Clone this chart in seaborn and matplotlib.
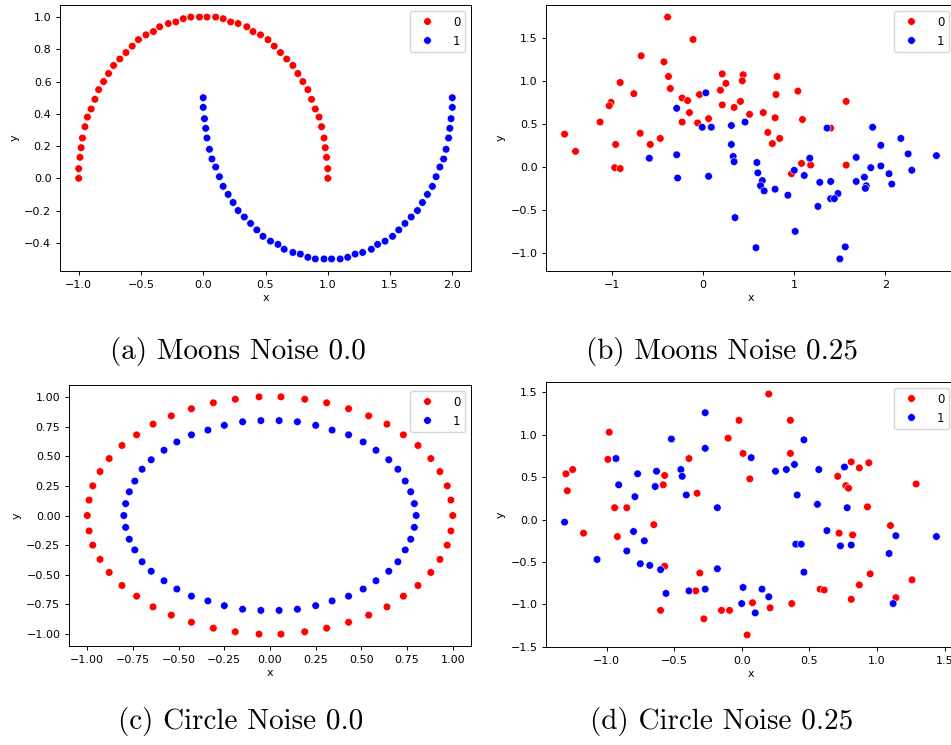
import numpy as np
import pandas as pd
import matplotlib
matplotlib.use('Agg')
import matplotlib.pyplot as plt
from matplotlib.ticker import MultipleLocator
import seaborn as sns

# (a) Moons, noise 0.0
moons0_x0 = [1.00, 1.00, 0.99, 0.98, 0.97, 0.95, 0.93, 0.90, 0.87, 0.84, 0.80, 0.76, 0.72, 0.67, 0.62, 0.57, 0.52,
             0.46, 0.40, 0.35, 0.28, 0.22, 0.16, 0.10, 0.03, -0.03, -0.10, -0.16, -0.22, -0.28, -0.35, -0.40, -0.46,
             -0.52, -0.57, -0.62, -0.67, -0.72, -0.76, -0.80, -0.84, -0.87, -0.90, -0.93, -0.95, -0.97, -0.98, -0.99,
             -1.00, -1.00]
moons0_y0 = [0.00, 0.06, 0.13, 0.19, 0.25, 0.32, 0.38, 0.43, 0.49, 0.55, 0.60, 0.65, 0.70, 0.74, 0.78, 0.82, 0.86,
             0.89, 0.91, 0.94, 0.96, 0.97, 0.99, 1.00, 1.00, 1.00, 1.00, 0.99, 0.97, 0.96, 0.94, 0.91, 0.89, 0.86,
             0.82, 0.78, 0.74, 0.70, 0.65, 0.60, 0.55, 0.49, 0.43, 0.38, 0.32, 0.25, 0.19, 0.13, 0.06, 0.00]
moons0_x1 = [0.00, 0.00, 0.01, 0.02, 0.03, 0.05, 0.07, 0.10, 0.13, 0.16, 0.20, 0.24, 0.28, 0.33, 0.38, 0.43, 0.48,
             0.54, 0.60, 0.65, 0.72, 0.78, 0.84, 0.90, 0.97, 1.03, 1.10, 1.16, 1.22, 1.28, 1.35, 1.40, 1.46, 1.52,
             1.57, 1.62, 1.67, 1.72, 1.76, 1.80, 1.84, 1.87, 1.90, 1.93, 1.95, 1.97, 1.98, 1.99, 2.00, 2.00]
moons0_y1 = [0.50, 0.44, 0.37, 0.31, 0.25, 0.18, 0.12, 0.07, 0.01, -0.05, -0.10, -0.15, -0.20, -0.24, -0.28, -0.32,
             -0.36, -0.39, -0.41, -0.44, -0.46, -0.47, -0.49, -0.50, -0.50, -0.50, -0.50, -0.49, -0.47, -0.46, -0.44,
             -0.41, -0.39, -0.36, -0.32, -0.28, -0.24, -0.20, -0.15, -0.10, -0.05, 0.01, 0.07, 0.12, 0.18, 0.25,
             0.31, 0.37, 0.44, 0.50]

# (b) Moons, noise 0.25
moons25_x0 = [-0.39, -0.11, -0.68, -0.43, -0.38, -0.91, -0.76, -0.36, -1.01, -1.03, -0.23, -0.17, -0.04, -0.15,
              -1.13, -0.23, -0.06, 0.06, 0.21, 0.25, 0.19, 0.44, 0.43, 0.41, 0.21, 0.34, 0.51, -1.52, -0.69, -0.47,
              -0.96, -0.58, -1.40, -0.97, -0.91, 0.81, 0.80, 1.04, 1.57, 0.66, 0.79, 1.09, 1.40, 0.71, 0.84, 0.76,
              1.08, 1.18, 1.57, 0.97]
moons25_y0 = [1.74, 1.48, 1.29, 1.22, 1.05, 0.98, 0.85, 0.91, 0.75, 0.71, 0.80, 0.77, 0.84, 0.63, 0.52, 0.52,
              0.51, 0.56, 1.08, 0.97, 0.89, 1.07, 1.00, 0.76, 0.72, 0.69, 0.61, 0.38, 0.39, 0.33, 0.26, 0.26, 0.18,
              -0.01, -0.02, 1.05, 0.84, 0.88, 0.76, 0.63, 0.57, 0.55, 0.45, 0.40, 0.33, 0.27, 0.04, 0.02, 0.02, -0.08]
moons25_x1 = [0.03, -0.29, -0.01, 0.09, 0.31, 0.46, 0.31, -0.59, -0.29, -0.28, 0.06, 0.33, 0.34, 0.35, 1.36, 1.86,
              2.17, 1.95, 2.25, 2.56, 0.59, 1.17, 1.68, 0.60, 1.00, 1.11, 0.65, 0.63, 0.67, 0.79, 0.93, 1.28, 1.40,
              1.48, 1.40, 1.44, 1.26, 1.68, 1.77, 1.84, 1.95, 2.04, 2.07, 2.29, 1.79, 1.78, 1.01, 0.58, 1.56, 1.50]
moons25_y1 = [0.86, 0.68, 0.46, 0.46, 0.48, 0.52, 0.26, 0.10, 0.14, -0.13, -0.11, 0.12, 0.06, -0.59, 0.45, 0.46,
              0.33, 0.25, 0.15, 0.13, 0.05, 0.10, 0.11, -0.07, -0.04, -0.10, -0.16, -0.22, -0.28, -0.26, -0.33, -0.18,
              -0.17, -0.31, -0.37, -0.37, -0.46, -0.17, -0.12, -0.01, 0.01, -0.08, -0.20, -0.04, -0.22, -0.25, -0.75,
              -0.94, -0.93, -1.07]

# (c) Circle, noise 0.0
circ0_x0 = [1.00, 0.99, 0.97, 0.93, 0.88, 0.81, 0.73, 0.64, 0.54, 0.43, 0.31, 0.19, 0.06,
            -0.06, -0.19, -0.31, -0.43, -0.54, -0.64, -0.73, -0.81, -0.88, -0.93, -0.97, -0.99, -1.00,
            -0.99, -0.97, -0.93, -0.88, -0.81, -0.73, -0.64, -0.54, -0.43, -0.31, -0.19, -0.06,
            0.06, 0.19, 0.31, 0.43, 0.54, 0.64, 0.73, 0.81, 0.88, 0.93, 0.97, 0.99]
circ0_y0 = [0.00, 0.13, 0.25, 0.37, 0.48, 0.59, 0.68, 0.77, 0.84, 0.90, 0.95, 0.98, 1.00,
            1.00, 0.98, 0.95, 0.90, 0.84, 0.77, 0.68, 0.59, 0.48, 0.37, 0.25, 0.13, 0.00,
            -0.13, -0.25, -0.37, -0.48, -0.59, -0.68, -0.77, -0.84, -0.90, -0.95, -0.98, -1.00,
            -1.00, -0.98, -0.95, -0.90, -0.84, -0.77, -0.68, -0.59, -0.48, -0.37, -0.25, -0.13]
circ0_x1 = [0.80, 0.79, 0.77, 0.74, 0.70, 0.65, 0.58, 0.51, 0.43, 0.34, 0.25, 0.15, 0.05,
            -0.05, -0.15, -0.25, -0.34, -0.43, -0.51, -0.58, -0.65, -0.70, -0.74, -0.77, -0.79, -0.80,
            -0.79, -0.77, -0.74, -0.70, -0.65, -0.58, -0.51, -0.43, -0.34, -0.25, -0.15, -0.05,
            0.05, 0.15, 0.25, 0.34, 0.43, 0.51, 0.58, 0.65, 0.70, 0.74, 0.77, 0.79]
circ0_y1 = [0.00, 0.10, 0.20, 0.29, 0.39, 0.47, 0.55, 0.62, 0.68, 0.72, 0.76, 0.79, 0.80,
            0.80, 0.79, 0.76, 0.72, 0.68, 0.62, 0.55, 0.47, 0.39, 0.29, 0.20, 0.10, 0.00,
            -0.10, -0.20, -0.29, -0.39, -0.47, -0.55, -0.62, -0.68, -0.72, -0.76, -0.79, -0.80,
            -0.80, -0.79, -0.76, -0.72, -0.68, -0.62, -0.55, -0.47, -0.39, -0.29, -0.20, -0.10]

# (d) Circle, noise 0.25
circ25_x0 = [-1.30, -1.25, -1.29, -0.98, -0.99, -0.94, -0.85, -0.57, -0.58, -0.39, -0.33, -0.10, 0.20, -0.02,
             0.36, 0.01, 0.36, 0.06, 0.81, 0.87, 0.94, 0.71, 0.77, 0.79, 1.29, 0.93, 0.72, 0.82, 1.10, 0.95, 0.87,
             1.26, 0.58, 0.61, 0.81, 1.14, 0.08, 0.21, 0.37, -0.09, 0.04, -1.17, -0.92, -0.65, -0.57, -0.60, -0.34,
             -0.31, -0.28, -0.15]
circ25_y0 = [0.54, 0.59, 0.34, 1.03, 0.71, 0.14, 0.14, 0.52, 0.41, 0.72, 0.31, 0.96, 1.48, 1.17, 1.17, 0.78, 0.78,
             0.48, 0.68, 0.61, 0.67, 0.51, 0.40, 0.37, 0.42, 0.15, -0.16, -0.18, -0.07, -0.64, -0.77, -0.71, -0.82,
             -0.83, -0.94, -0.92, -0.98, -1.04, -0.99, -1.07, -1.36, -0.16, -0.20, -0.06, -0.55, -1.07, -0.84, -0.63,
             -1.17, -1.07]
circ25_x1 = [-0.93, -0.91, -0.79, -0.77, -0.63, -0.64, -0.52, -0.27, -0.27, -0.45, -0.44, -0.41, -0.18, -1.31,
             0.46, 0.07, 0.25, 0.33, 0.39, 0.57, 0.76, 0.41, 0.56, 0.78, 0.63, 1.14, 1.44, 0.40, 0.44, 0.73, 0.81,
             1.09, 0.46, 1.12, 0.01, 0.15, 0.20, 0.00, 0.10, -0.80, -0.72, -0.85, -1.07, -0.75, -0.68, -0.60, -0.56,
             -0.39, -0.27, -0.18]
circ25_y1 = [0.72, 0.41, 0.27, 0.54, 0.57, 0.39, 0.95, 1.26, 0.84, 0.59, 0.51, 0.29, 0.14, -0.03, 0.94, 0.73,
             0.57, 0.59, 0.65, 0.59, 0.62, 0.29, 0.18, 0.14, -0.13, -0.19, -0.20, -0.29, -0.29, -0.31, -0.30, -0.40,
             -0.62, -0.99, -0.80, -0.82, -0.91, -0.99, -1.10, -0.14, -0.25, -0.37, -0.47, -0.52, -0.54, -0.59, -0.87,
             -0.84, -0.82, -0.58]

captions = ['(a) Moons Noise 0.0', '(b) Moons Noise 0.25', '(c) Circle Noise 0.0', '(d) Circle Noise 0.25']

W, H = 951, 745
fig = plt.figure(figsize=(W / 100, H / 100), dpi=100)


def add_ax(left, top, right, bottom):
    return fig.add_axes([left / W, 1 - bottom / H, (right - left) / W, (bottom - top) / H])


def panel(ax, x0, y0, x1, y1):
    df = pd.DataFrame({'x': x0 + x1, 'y': y0 + y1})
    labels = [0] * len(x0) + [1] * len(x1)
    sns.scatterplot(x=df['x'].values, y=df['y'].values, hue=labels,
                    palette={0: '#ff0000', 1: '#0000ff'}, s=30, linewidth=0.4, edgecolor='white', ax=ax)
    ax.set_xlabel('x', fontsize=8, labelpad=2.5)
    ax.set_ylabel('y', fontsize=8, labelpad=3.5)
    ax.tick_params(labelsize=8, length=3.2, width=0.7, pad=3)
    for sp in ax.spines.values():
        sp.set_linewidth(0.7)
    sns.move_legend(ax, 'upper right', fontsize=8.5, markerscale=1.0, handletextpad=1.2,
                    borderpad=0.4, labelspacing=0.5)


axes_boxes = [(60, 5, 471, 271), (546, 5, 955, 271), (69, 385, 471, 646), (546, 382, 955, 647)]
data = [(moons0_x0, moons0_y0, moons0_x1, moons0_y1),
        (moons25_x0, moons25_y0, moons25_x1, moons25_y1),
        (circ0_x0, circ0_y0, circ0_x1, circ0_y1),
        (circ25_x0, circ25_y0, circ25_x1, circ25_y1)]

axes = []
for box, d in zip(axes_boxes, data):
    ax = add_ax(*box)
    panel(ax, *d)
    axes.append(ax)

axes[0].xaxis.set_major_locator(MultipleLocator(0.5))
axes[0].yaxis.set_major_locator(MultipleLocator(0.2))
axes[1].xaxis.set_major_locator(MultipleLocator(1))
axes[1].yaxis.set_major_locator(MultipleLocator(0.5))
axes[2].xaxis.set_major_locator(MultipleLocator(0.25))
axes[2].yaxis.set_major_locator(MultipleLocator(0.25))
axes[3].xaxis.set_major_locator(MultipleLocator(0.5))
axes[3].yaxis.set_major_locator(MultipleLocator(0.5))

cap_pos = [(238, 352), (722, 352), (241, 722), (722, 722)]
for (cx, cy), txt in zip(cap_pos, captions):
    fig.text(cx / W, 1 - cy / H, txt, ha='center', va='center', fontsize=21, family='cmr10')

fig.savefig('out.png', dpi=100)
